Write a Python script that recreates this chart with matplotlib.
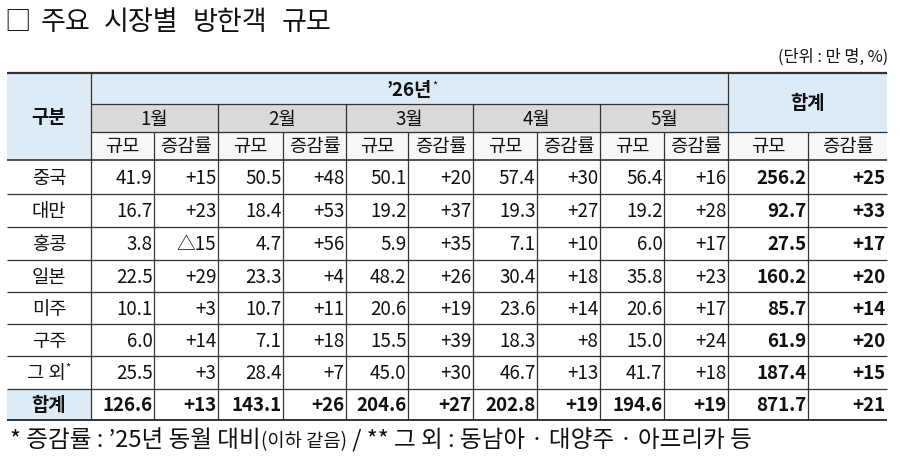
import matplotlib
matplotlib.use("Agg")
import matplotlib.pyplot as plt
from matplotlib.patches import Rectangle

plt.rcParams['font.family'] = ['Noto Sans CJK KR', 'DejaVu Sans']

# ---------------- data ----------------
title_words = ["□", "주요", "시장별", "방한객", "규모"]
unit_label = "(단위 : 만 명, %)"
year_label = "’26년"
months = ["1월", "2월", "3월", "4월", "5월"]
total_label = "합계"
corner_label = "구분"
sub_labels = ["규모", "증감률"]
regions = ["중국", "대만", "홍콩", "일본", "미주", "구주", "그 외", "합계"]
size_values = [
    [41.9, 50.5, 50.1, 57.4, 56.4],
    [16.7, 18.4, 19.2, 19.3, 19.2],
    [3.8, 4.7, 5.9, 7.1, 6.0],
    [22.5, 23.3, 48.2, 30.4, 35.8],
    [10.1, 10.7, 20.6, 23.6, 20.6],
    [6.0, 7.1, 15.5, 18.3, 15.0],
    [25.5, 28.4, 45.0, 46.7, 41.7],
    [126.6, 143.1, 204.6, 202.8, 194.6],
]
rate_values = [
    [15, 48, 20, 30, 16],
    [23, 53, 37, 27, 28],
    [-15, 56, 35, 10, 17],
    [29, 4, 26, 18, 23],
    [3, 11, 19, 14, 17],
    [14, 18, 39, 8, 24],
    [3, 7, 30, 13, 18],
    [13, 26, 27, 19, 19],
]
total_sizes = [256.2, 92.7, 27.5, 160.2, 85.7, 61.9, 187.4, 871.7]
total_rates = [25, 33, 17, 20, 14, 20, 15, 21]
footnote_parts = [("* 증감률 : ’25년 동월 대비", 17), ("(이하 같음)", 13.5),
                  (" / ** 그 외 : 동남아 · 대양주 · 아프리카 등", 17)]

# ---------------- layout ----------------
col_x = [7, 91, 154, 218, 283, 346, 408, 473, 537, 600, 664, 728, 808, 887]
head_y = [74, 105, 133, 161]
row_y = [161, 195, 228, 261, 293, 325, 357, 390, 421]

BLUE = "#DDEBF7"
GRAY = "#D9D9D9"
SUBG = "#F7F7F7"
LINE = "#333333"
TXT = "#111111"

fig = plt.figure(figsize=(9, 4.6), dpi=100)
ax = fig.add_axes([0, 0, 1, 1])
ax.set_xlim(0, 900)
ax.set_ylim(460, 0)
ax.axis("off")

def rect(x0, y0, x1, y1, color):
    ax.add_patch(Rectangle((x0, y0), x1 - x0, y1 - y0, facecolor=color, edgecolor="none", zorder=0))

# fills
rect(col_x[0], head_y[0], col_x[1], head_y[3], BLUE)        # 구분
rect(col_x[1], head_y[0], col_x[11], head_y[1], BLUE)       # '26년
rect(col_x[1], head_y[1], col_x[11], head_y[2], GRAY)       # months
rect(col_x[11], head_y[0], col_x[13], head_y[2], BLUE)      # 합계
rect(col_x[1], head_y[2], col_x[13], head_y[3], SUBG)       # sub headers
rect(col_x[0], row_y[7], col_x[1], row_y[8], BLUE)          # 합계 row label

# lines
def hline(y, x0, x1, lw=0.9):
    ax.plot([x0, x1], [y, y], color=LINE, lw=lw, solid_capstyle="butt", zorder=2)

def vline(x, y0, y1, lw=0.9):
    ax.plot([x, x], [y0, y1], color=LINE, lw=lw, solid_capstyle="butt", zorder=2)

hline(head_y[0], col_x[0], col_x[13], lw=1.6)
hline(head_y[1], col_x[1], col_x[11])
hline(head_y[2], col_x[1], col_x[13])
hline(head_y[3], col_x[0], col_x[13], lw=1.2)
for y in row_y[1:-1]:
    hline(y, col_x[0], col_x[13])
hline(row_y[-1], col_x[0], col_x[13], lw=1.4)

vline(col_x[1], head_y[0], row_y[-1])
vline(col_x[11], head_y[0], row_y[-1])
for i in (3, 5, 7, 9):
    vline(col_x[i], head_y[1], row_y[-1])
for i in (2, 4, 6, 8, 10, 12):
    vline(col_x[i], head_y[2], row_y[-1])

FS = 13.5

# title (words spaced like the original) and unit
prev = ax.text(4, 23, title_words[0], fontsize=19, va="center", ha="left", color=TXT)
for i, wd in enumerate(title_words[1:]):
    gap = 10 if i == 0 else 14
    prev = ax.annotate(wd, xy=(1, 0.5), xycoords=prev, xytext=(gap, 0), textcoords="offset pixels",
                       fontsize=19.5, va="center", ha="left", color=TXT)
ax.text(888, 57, unit_label, fontsize=11.8, va="center", ha="right", color=TXT)

# headers
ax.text((col_x[0] + col_x[1]) / 2, (head_y[0] + head_y[3]) / 2, corner_label,
        fontsize=FS, fontweight="bold", ha="center", va="center", color=TXT)
yt = ax.text((col_x[1] + col_x[11]) / 2, (head_y[0] + head_y[1]) / 2 + 1, year_label,
             fontsize=FS, fontweight="bold", ha="center", va="center", color=TXT)
ax.annotate("*", xy=(1, 0.75), xycoords=yt, fontsize=8, ha="left", va="center", color=TXT)
ax.text((col_x[11] + col_x[13]) / 2, (head_y[0] + head_y[2]) / 2, total_label,
        fontsize=FS, fontweight="bold", ha="center", va="center", color=TXT)
for m, name in enumerate(months):
    cx = (col_x[1 + 2 * m] + col_x[3 + 2 * m]) / 2
    ax.text(cx, (head_y[1] + head_y[2]) / 2, name, fontsize=FS, ha="center", va="center", color=TXT)
for k in range(6):
    for j in range(2):
        cx = (col_x[1 + 2 * k + j] + col_x[2 + 2 * k + j]) / 2
        ax.text(cx, (head_y[2] + head_y[3]) / 2, sub_labels[j], fontsize=FS,
                ha="center", va="center", color=TXT)

def fmt_rate(v):
    return ("+%d" % v) if v >= 0 else ("△%d" % abs(v))

# data rows
for r, reg in enumerate(regions):
    cy = (row_y[r] + row_y[r + 1]) / 2 + 0.5
    is_total = reg == "합계"
    w = "bold" if is_total else "normal"
    lx = (col_x[0] + col_x[1]) / 2
    if reg == "그 외":
        t = ax.text(lx - 3, cy, reg, fontsize=FS, ha="center", va="center", color=TXT)
        ax.annotate("*", xy=(1, 0.8), xycoords=t, fontsize=8, ha="left", va="center", color=TXT)
    else:
        ax.text(lx, cy, reg, fontsize=FS, fontweight=w, ha="center", va="center", color=TXT)
    for m in range(5):
        ax.text(col_x[2 + 2 * m] - 1.5, cy, "%.1f" % size_values[r][m], fontsize=FS, fontweight=w,
                ha="right", va="center", color=TXT)
        ax.text(col_x[3 + 2 * m] - 1.5, cy, fmt_rate(rate_values[r][m]), fontsize=FS, fontweight=w,
                ha="right", va="center", color=TXT)
    ax.text(col_x[12] - 1.5, cy, "%.1f" % total_sizes[r], fontsize=FS, fontweight="bold",
            ha="right", va="center", color=TXT)
    ax.text(col_x[13] - 1.5, cy, fmt_rate(total_rates[r]), fontsize=FS, fontweight="bold",
            ha="right", va="center", color=TXT)

# footnote
prev = ax.text(10, 441, footnote_parts[0][0], fontsize=footnote_parts[0][1], ha="left",
               va="center", color=TXT)
for txt, fs in footnote_parts[1:]:
    prev = ax.annotate(txt, xy=(1, 0.22), xycoords=prev, fontsize=fs, ha="left",
                       va="baseline", color=TXT)

fig.savefig("out.png", dpi=100)
